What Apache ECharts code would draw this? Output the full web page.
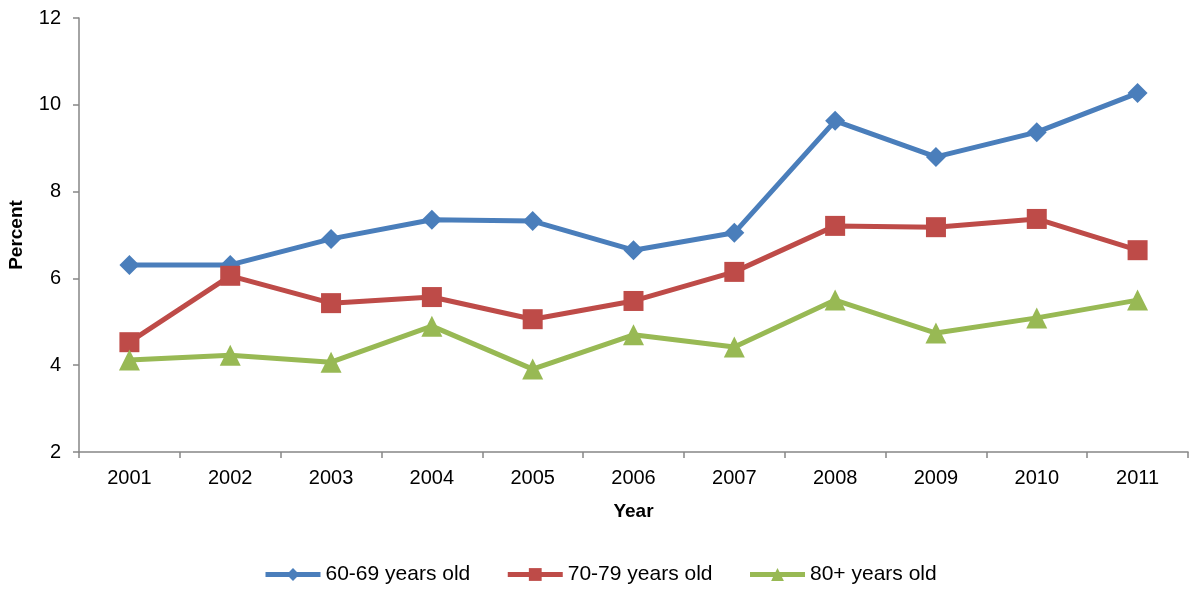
<!DOCTYPE html>
<html>
<head>
<meta charset="utf-8">
<script src="https://cdn.jsdelivr.net/npm/echarts@6/dist/echarts.min.js"></script>
<style>
  html, body { margin: 0; padding: 0; background: #fff; }
  #chart { width: 1189px; height: 590px; }
</style>
</head>
<body>
<div id="chart"></div>
<script>
var years = ['2001', '2002', '2003', '2004', '2005', '2006', '2007', '2008', '2009', '2010', '2011'];
var age60 = [6.31, 6.31, 6.91, 7.35, 7.32, 6.65, 7.05, 9.63, 8.80, 9.37, 10.27];
var age70 = [4.53, 6.06, 5.43, 5.57, 5.06, 5.48, 6.15, 7.21, 7.18, 7.37, 6.65];
var age80 = [4.12, 4.23, 4.07, 4.90, 3.91, 4.70, 4.42, 5.50, 4.74, 5.09, 5.50];

var font = 'Liberation Sans, Arial, sans-serif';
var axisGray = '#868686';

var myChart = echarts.init(document.getElementById('chart'));

function mkSeries(name, data, color, symbol, size) {
  return {
    name: name,
    type: 'line',
    data: data,
    symbol: symbol,
    symbolSize: size,
    showAllSymbol: true,
    lineStyle: { color: color, width: 5 },
    itemStyle: { color: color },
    emphasis: { disabled: true },
    animation: false
  };
}

var option = {
  backgroundColor: '#fff',
  textStyle: { fontFamily: font },
  grid: { left: 79, right: 1, top: 18, bottom: 138, containLabel: false, outerBoundsMode: 'none' },
  legend: {
    bottom: 0,
    left: 258,
    itemWidth: 55,
    itemHeight: 16,
    itemGap: 35,
    lineStyle: { width: 5 },
    textStyle: { fontSize: 21, color: '#000', fontFamily: font },
    data: ['60-69 years old', '70-79 years old', '80+ years old']
  },
  xAxis: {
    type: 'category',
    data: years,
    boundaryGap: true,
    name: 'Year',
    nameLocation: 'middle',
    nameGap: 50,
    nameTextStyle: { fontSize: 19, fontWeight: 'bold', color: '#000' },
    axisLine: { lineStyle: { color: axisGray, width: 1.5 } },
    axisTick: { show: true, alignWithLabel: false, length: 6, lineStyle: { color: axisGray, width: 1.5 } },
    axisLabel: { fontSize: 20, color: '#000', margin: 16 },
    splitLine: { show: false }
  },
  yAxis: {
    type: 'value',
    min: 2,
    max: 12,
    interval: 2,
    name: 'Percent',
    nameLocation: 'middle',
    nameGap: 53,
    nameTextStyle: { fontSize: 19, fontWeight: 'bold', color: '#000' },
    axisLine: { show: true, lineStyle: { color: axisGray, width: 1.5 } },
    axisTick: { show: true, length: 6, lineStyle: { color: axisGray, width: 1.5 } },
    axisLabel: { fontSize: 20, color: '#000', margin: 18 },
    splitLine: { show: false }
  },
  series: [
    mkSeries('60-69 years old', age60, '#4A7EBB', 'diamond', 20),
    mkSeries('70-79 years old', age70, '#BE4B48', 'rect', 20),
    mkSeries('80+ years old', age80, '#98B954', 'triangle', 21)
  ]
};

myChart.setOption(option);
</script>
</body>
</html>
